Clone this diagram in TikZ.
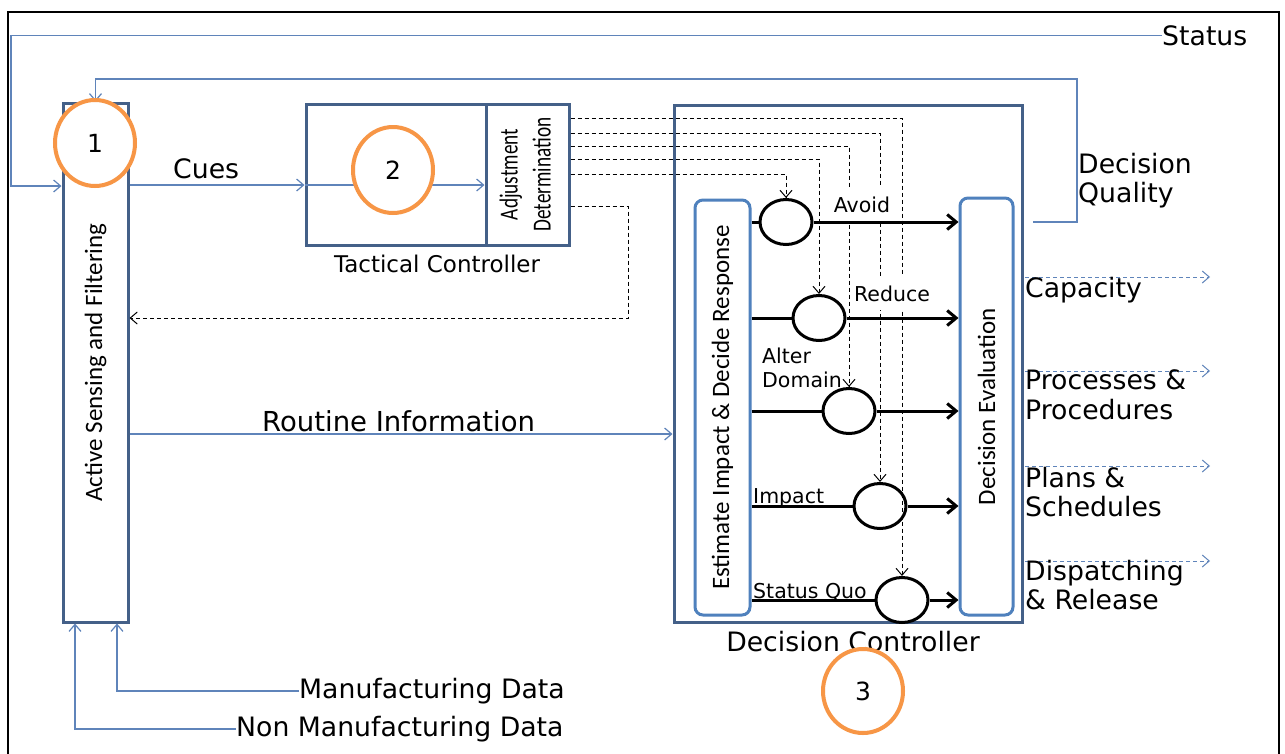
\documentclass[tikz,border=0pt]{standalone}
\usepackage{graphicx}
\usepackage{fontspec}
\setmainfont{DejaVu Sans}
\newfontfamily\narrowfont{Carlito}
\usetikzlibrary{arrows.meta,shapes.geometric}
\definecolor{boxblue}{RGB}{68,96,136}
\definecolor{roundblue}{RGB}{79,129,189}
\definecolor{flowblue}{RGB}{95,132,186}
\definecolor{markorange}{RGB}{247,150,70}

\begin{document}
\begin{tikzpicture}[x=1pt,y=-1pt,
  frameline/.style={draw=black,line width=2.5pt},
  box/.style={draw=boxblue,line width=3pt,fill=white,inner sep=0pt},
  roundbox/.style={draw=roundblue,line width=3pt,rounded corners=8pt,inner sep=0pt},
  flow/.style={draw=flowblue,line width=1.2pt},
  flowarrow/.style={flow,-{Straight Barb[length=7pt,width=12pt]}},
  dashflow/.style={draw=black,line width=1pt,dash pattern=on 4pt off 3pt},
  dasharrow/.style={dashflow,-{Straight Barb[length=7pt,width=12pt]}},
  outarrow/.style={draw=flowblue,line width=1pt,dash pattern=on 4pt off 3pt,-{Straight Barb[length=7pt,width=12pt]}},
  choice/.style={ellipse,draw=black,line width=3pt,minimum width=52pt,minimum height=45pt,inner sep=0pt},
  strong/.style={draw=black,line width=3pt},
  strongarrow/.style={strong,-{Straight Barb[length=9pt,width=15pt]}},
  marker/.style={ellipse,draw=markorange,line width=4pt,fill=white,minimum width=80pt,minimum height=86pt,inner sep=0pt,font=\fontsize{25}{30}\selectfont},
  lbl/.style={inner sep=0pt,font=\fontsize{26.7}{29.5}\selectfont},
  small/.style={inner sep=0pt,font=\fontsize{20.5}{24}\selectfont},
  vlabel/.style={rotate=90,inner sep=0pt,font=\narrowfont\fontsize{25}{30}\selectfont}
]
\useasboundingbox (0,0) rectangle (1285,753);
\fill[white] (0,0) rectangle (1285,753);
\draw[frameline] (8,770) -- (8,12) -- (1279,12) -- (1279,770);

% main blocks
\node[box,minimum width=65pt,minimum height=519pt] (sense) at (95.5,362.5) {};
\node[box,minimum width=180pt,minimum height=141pt] (tact) at (396,174.5) {};
\node[box,minimum width=83pt,minimum height=141pt] (adjust) at (527.5,174.5) {};
\node[box,minimum width=348pt,minimum height=517pt] (dctrl) at (848,363.5) {};
\node[roundbox,minimum width=55pt,minimum height=415pt] (estim) at (722.5,407.5) {};
\node[roundbox,minimum width=53pt,minimum height=417pt] (deval) at (986.5,406.5) {};

\node[vlabel] (senseText) at (sense.center) {Active Sensing and Filtering};
\node[vlabel] (estimText) at (estim.center) {Estimate Impact \& Decide Response};
\node[vlabel] (devalText) at (deval.center) {Decision Evaluation};
\node[rotate=90,inner sep=0pt,font=\narrowfont\fontsize{26}{33}\selectfont] (adjustText) at (adjust.center)
  {\scalebox{0.74}[1]{\begin{tabular}{@{}c@{}}Adjustment\\Determination\end{tabular}}};

\node[lbl,anchor=base,font=\fontsize{23}{27}\selectfont] (tactName) at (437,272) {Tactical Controller};
\node[lbl,anchor=base] (dctrlName) at (853,651) {Decision Controller};

% response options
\node[choice] (avoid) at (786,222) {};
\node[choice] (reduce) at (819,318) {};
\node[choice] (alter) at (849,411) {};
\node[choice] (impact) at (880,506) {};
\node[choice] (squo) at (902,600) {};

% adjustment signals
\coordinate (d1) at (0,118);
\coordinate (d2) at (0,133);
\coordinate (d3) at (0,146);
\coordinate (d4) at (0,159);
\coordinate (d5) at (0,174);
\draw[dasharrow] (adjust.east |- d1) -| (squo.north);
\draw[dasharrow] (adjust.east |- d2) -| (impact.north);
\draw[dasharrow] (adjust.east |- d3) -| (alter.north);
\draw[dasharrow] (adjust.east |- d4) -| (reduce.north);
\draw[dasharrow] (adjust.east |- d5) -| (avoid.north);
\coordinate (fbBend) at (628,206);
\coordinate (fbDown) at (628,318);
\draw[dasharrow] (adjust.east |- fbBend) -- (fbBend) -- (fbDown) -- (sense.east |- fbDown);

% option labels
\node[small,anchor=base,fill=white,inner xsep=3pt,inner ysep=9pt] (avoidLbl) at (862,212) {Avoid};
\node[small,anchor=base,fill=white,inner xsep=3pt,inner ysep=9pt] (reduceLbl) at (892,301) {Reduce};
\node[small,anchor=north west,align=left] (alterLbl) at (762,347.5) {Alter\\Domain};
\node[small,anchor=base west] (impactLbl) at (753,503) {Impact};
\node[small,anchor=base west] (squoLbl) at (753,598) {Status Quo};

% option paths
\draw[strong] (estim.east |- avoid) -- (avoid.west);
\draw[strongarrow] (avoid.east) -- (deval.west |- avoid);
\draw[strong] (estim.east |- reduce) -- (reduce.west);
\draw[strongarrow] (reduce.east) -- (deval.west |- reduce);
\draw[strong] (estim.east |- alter) -- (alter.west);
\draw[strongarrow] (alter.east) -- (deval.west |- alter);
\draw[strong] (estim.east |- impact) -- (impact.west);
\draw[strongarrow] (impact.east) -- (deval.west |- impact);
\draw[strong] (estim.east |- squo) -- (squo.west);
\draw[strongarrow] (squo.east) -- (deval.west |- squo);

% information flows
\node[lbl,anchor=base west] (status) at (1162,45) {Status};
\coordinate (stLow) at (11,186);
\draw[flowarrow] (status.west) -| (stLow) -- (sense.west |- stLow);

\node[lbl,anchor=north west,align=left] (dq) at (1078,152.7) {Decision\\Quality};
\coordinate (dqStart) at (1033,222);
\coordinate (dqCorner) at (1077,79);
\draw[flowarrow] (dqStart) -| (dqCorner) -| (sense.north);

\coordinate (cueY) at (0,185);
\node[lbl,anchor=base west] (cues) at (173,178) {Cues};
\draw[flowarrow] (sense.east |- cueY) -- (tact.west |- cueY);
\draw[flowarrow] (tact.west |- cueY) -- (adjust.west |- cueY);

\coordinate (rtY) at (0,434);
\node[lbl,anchor=base west,font=\fontsize{27.5}{30}\selectfont] (routine) at (262,431) {Routine Information};
\draw[flowarrow] (sense.east |- rtY) -- (dctrl.west |- rtY);

\node[lbl,anchor=west] (mfg) at (299,691) {Manufacturing Data};
\node[lbl,anchor=west] (nonmfg) at (236,729) {Non Manufacturing Data};
\coordinate (mfgX) at (117,0);
\coordinate (nonX) at (75,0);
\draw[flowarrow] (mfg.west) -| (mfgX |- sense.south);
\draw[flowarrow] (nonmfg.west) -| (nonX |- sense.south);

% outputs
\coordinate (o1a) at (1025,277); \coordinate (o1b) at (1210,277);
\coordinate (o2a) at (1025,371); \coordinate (o2b) at (1210,371);
\coordinate (o3a) at (1025,466); \coordinate (o3b) at (1210,466);
\coordinate (o4a) at (1025,561); \coordinate (o4b) at (1210,561);
\draw[outarrow] (o1a) -- (o1b);
\draw[outarrow] (o2a) -- (o2b);
\draw[outarrow] (o3a) -- (o3b);
\draw[outarrow] (o4a) -- (o4b);
\node[lbl,anchor=base west] (capLbl) at (1025,297) {Capacity};
\node[lbl,anchor=north west,align=left] (procLbl) at (1025,369.7) {Processes \&\\Procedures};
\node[lbl,anchor=north west,align=left] (planLbl) at (1025,466.7) {Plans \&\\Schedules};
\node[lbl,anchor=north west,align=left] (dispLbl) at (1025,559.7) {Dispatching\\\& Release};

% numbered markers
\node[marker] (m1) at (95,143) {1};
\node[marker] (m2) at (393,170) {2};
\node[marker,minimum height=84pt] (m3) at (863,691) {3};
\end{tikzpicture}
\end{document}
